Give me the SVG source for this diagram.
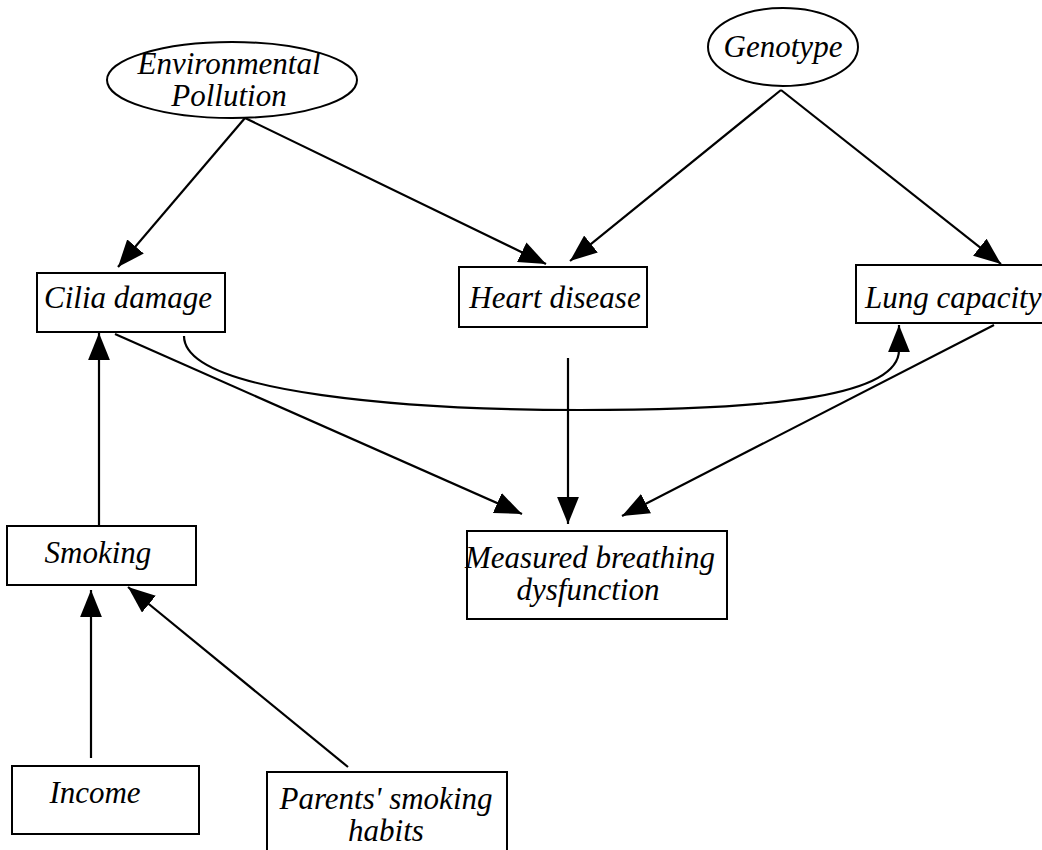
<svg xmlns="http://www.w3.org/2000/svg" width="1042" height="850" viewBox="0 0 1042 850">
<style>
.n{fill:#fff;stroke:#000;stroke-width:2}
.t{font-family:"Liberation Serif","Times New Roman",serif;font-style:italic;font-size:31px;fill:#000;text-anchor:middle}
.c{fill:none;stroke:#000;stroke-width:2.2}
</style>
<defs>
<marker id="ah" markerUnits="userSpaceOnUse" markerWidth="27" markerHeight="22" viewBox="0 0 26 21" refX="26" refY="10.5" orient="auto">
<path d="M0,0 L26,10.5 L0,21 z" fill="#000"/>
</marker>
</defs>
<rect width="1042" height="850" fill="#fff"/>
<g id="connectors">
<line class="c" x1="245" y1="118" x2="118" y2="267" marker-end="url(#ah)"/>
<line class="c" x1="245" y1="118" x2="546" y2="264" marker-end="url(#ah)"/>
<line class="c" x1="781" y1="90" x2="570" y2="261" marker-end="url(#ah)"/>
<line class="c" x1="781" y1="90" x2="1001" y2="264" marker-end="url(#ah)"/>
<line class="c" x1="115" y1="334" x2="522" y2="514" marker-end="url(#ah)"/>
<line class="c" x1="568" y1="358" x2="568" y2="524" marker-end="url(#ah)"/>
<line class="c" x1="994" y1="325" x2="622" y2="516" marker-end="url(#ah)"/>
<path class="c" d="M184,336 C184,395 420,410 580,410 C780,410 899,395 899,350 L899,325" marker-end="url(#ah)"/>
<line class="c" x1="99" y1="526" x2="99" y2="333" marker-end="url(#ah)"/>
<line class="c" x1="91" y1="758" x2="91" y2="590" marker-end="url(#ah)"/>
<line class="c" x1="348" y1="767" x2="128" y2="587" marker-end="url(#ah)"/>
</g>
<g id="env">
<ellipse class="n" cx="232" cy="80" rx="125" ry="38"/>
<text class="t" x="229" y="74">Environmental</text>
<text class="t" x="229" y="106">Pollution</text>
</g>
<g id="genotype">
<ellipse class="n" cx="783" cy="47" rx="75" ry="39"/>
<text class="t" x="783" y="57">Genotype</text>
</g>
<g id="cilia">
<rect class="n" x="37" y="273" width="188" height="59"/>
<text class="t" x="128" y="308">Cilia damage</text>
</g>
<g id="heart">
<rect class="n" x="459" y="267" width="188" height="60"/>
<text class="t" x="555" y="308">Heart disease</text>
</g>
<g id="lung">
<rect class="n" x="856" y="265" width="200" height="58"/>
<text class="t" x="865" y="308" style="text-anchor:start">Lung capacity</text>
</g>
<g id="measured">
<rect class="n" x="467" y="531" width="260" height="88"/>
<text class="t" x="590" y="568">Measured breathing</text>
<text class="t" x="588" y="600">dysfunction</text>
</g>
<g id="smoking">
<rect class="n" x="7" y="526" width="189" height="59"/>
<text class="t" x="98" y="563">Smoking</text>
</g>
<g id="income">
<rect class="n" x="12" y="766" width="187" height="68"/>
<text class="t" x="95" y="803">Income</text>
</g>
<g id="parents">
<rect class="n" x="267" y="772" width="240" height="100"/>
<text class="t" x="386" y="809">Parents' smoking</text>
<text class="t" x="386" y="841">habits</text>
</g>
</svg>
